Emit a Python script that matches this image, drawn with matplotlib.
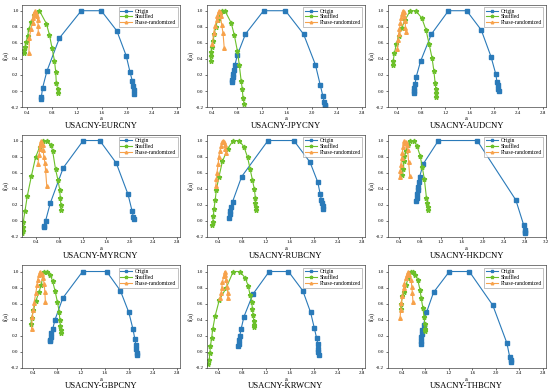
import matplotlib
matplotlib.use("Agg")
import matplotlib.pyplot as plt

plt.rcParams["font.family"] = ["Liberation Serif", "DejaVu Serif"]

pairs = ["USACNY-EURCNY", "USACNY-JPYCNY", "USACNY-AUDCNY",
         "USACNY-MYRCNY", "USACNY-RUBCNY", "USACNY-HKDCNY",
         "USACNY-GBPCNY", "USACNY-KRWCNY", "USACNY-THBCNY"]
series_names = ["Origin", "Shuffled", "Phase-randomized"]

# alpha values and f(alpha) values
eur_origin_a = [0.62, 0.63, 0.65, 0.72, 0.92, 1.27, 1.59, 1.84, 1.99, 2.05, 2.09, 2.10, 2.11, 2.12]
eur_origin_f = [-0.10, -0.075, 0.04, 0.25, 0.66, 1.0, 1.0, 0.75, 0.44, 0.24, 0.12, 0.06, 0.01, -0.04]
eur_shuf_a = [0.36, 0.36, 0.37, 0.39, 0.41, 0.43, 0.47, 0.52, 0.60, 0.71, 0.76, 0.80, 0.84, 0.86, 0.87, 0.89, 0.89]
eur_shuf_f = [0.47, 0.51, 0.55, 0.61, 0.69, 0.77, 0.86, 0.95, 1.0, 0.84, 0.70, 0.54, 0.38, 0.24, 0.10, 0.03, -0.03]
eur_phase_a = [0.43, 0.44, 0.46, 0.49, 0.50, 0.51, 0.52, 0.53, 0.55, 0.56, 0.57, 0.58, 0.58]
eur_phase_f = [0.47, 0.66, 0.77, 0.85, 0.91, 0.95, 0.97, 1.0, 0.97, 0.93, 0.89, 0.81, 0.72]

jpy_origin_a = [0.73, 0.73, 0.74, 0.74, 0.75, 0.77, 0.81, 0.94, 1.23, 1.58, 1.87, 2.06, 2.14, 2.18, 2.20, 2.21, 2.22]
jpy_origin_f = [0.11, 0.14, 0.18, 0.21, 0.26, 0.32, 0.45, 0.71, 1.0, 1.0, 0.71, 0.33, 0.07, -0.06, -0.13, -0.17, -0.19]
jpy_shuf_a = [0.38, 0.39, 0.39, 0.40, 0.42, 0.44, 0.46, 0.50, 0.53, 0.56, 0.61, 0.71, 0.76, 0.81, 0.84, 0.87, 0.89, 0.90, 0.92]
jpy_shuf_f = [0.38, 0.44, 0.48, 0.55, 0.62, 0.71, 0.80, 0.89, 0.96, 1.0, 1.0, 0.85, 0.70, 0.50, 0.33, 0.13, 0.02, -0.09, -0.16]
jpy_phase_a = [0.41, 0.43, 0.45, 0.48, 0.49, 0.51, 0.52, 0.53, 0.54, 0.56, 0.58, 0.60]
jpy_phase_f = [0.59, 0.72, 0.81, 0.88, 0.94, 0.99, 1.0, 0.98, 0.93, 0.82, 0.72, 0.53]

aud_origin_a = [0.68, 0.69, 0.69, 0.70, 0.72, 0.79, 0.97, 1.25, 1.55, 1.79, 1.95, 2.03, 2.05, 2.06, 2.07, 2.08]
aud_origin_f = [-0.03, 0.0, 0.04, 0.09, 0.18, 0.37, 0.71, 1.0, 1.0, 0.76, 0.43, 0.21, 0.11, 0.07, 0.03, 0.0]
aud_shuf_a = [0.33, 0.34, 0.36, 0.39, 0.43, 0.48, 0.54, 0.62, 0.71, 0.81, 0.88, 0.93, 0.98, 1.01, 1.03, 1.04, 1.05, 1.05]
aud_shuf_f = [0.33, 0.38, 0.47, 0.58, 0.69, 0.79, 0.89, 1.0, 1.0, 0.91, 0.76, 0.59, 0.41, 0.25, 0.10, 0.03, -0.03, -0.07]
aud_phase_a = [0.41, 0.42, 0.43, 0.44, 0.46, 0.47, 0.49, 0.50, 0.51, 0.52, 0.54, 0.54, 0.55]
aud_phase_f = [0.52, 0.64, 0.71, 0.77, 0.85, 0.91, 0.96, 1.0, 0.98, 0.93, 0.87, 0.79, 0.73]

myr_origin_a = [0.55, 0.55, 0.57, 0.65, 0.87, 1.21, 1.49, 1.77, 1.97, 2.04, 2.06, 2.07]
myr_origin_f = [-0.08, -0.06, 0.0, 0.22, 0.66, 1.0, 1.0, 0.72, 0.33, 0.12, 0.05, 0.02]
myr_shuf_a = [0.17, 0.18, 0.18, 0.19, 0.22, 0.26, 0.33, 0.40, 0.47, 0.53, 0.59, 0.66, 0.69, 0.74, 0.78, 0.81, 0.82, 0.83, 0.83]
myr_shuf_f = [-0.15, -0.12, -0.08, -0.02, 0.12, 0.31, 0.56, 0.79, 0.92, 1.0, 1.0, 0.95, 0.87, 0.64, 0.51, 0.39, 0.29, 0.20, 0.13]
myr_phase_a = [0.44, 0.46, 0.47, 0.47, 0.49, 0.50, 0.52, 0.53, 0.54, 0.56, 0.57, 0.59]
myr_phase_f = [0.71, 0.82, 0.89, 0.95, 0.97, 1.0, 0.94, 0.88, 0.80, 0.72, 0.63, 0.44]

rub_origin_a = [0.59, 0.60, 0.61, 0.62, 0.65, 0.80, 1.24, 1.67, 1.94, 2.07, 2.11, 2.13, 2.14, 2.15, 2.16]
rub_origin_f = [0.03, 0.08, 0.12, 0.17, 0.24, 0.55, 1.0, 1.0, 0.73, 0.48, 0.33, 0.26, 0.22, 0.18, 0.15]
rub_shuf_a = [0.31, 0.32, 0.33, 0.34, 0.36, 0.38, 0.42, 0.48, 0.57, 0.66, 0.76, 0.84, 0.90, 0.94, 0.98, 1.01, 1.03, 1.03, 1.04, 1.04]
rub_shuf_f = [-0.05, -0.01, 0.06, 0.15, 0.26, 0.39, 0.54, 0.74, 0.90, 1.0, 1.0, 0.92, 0.79, 0.65, 0.51, 0.40, 0.29, 0.22, 0.17, 0.13]
rub_phase_a = [0.37, 0.38, 0.39, 0.41, 0.42, 0.44, 0.46, 0.48, 0.49, 0.51, 0.52, 0.53, 0.54]
rub_phase_f = [0.44, 0.52, 0.60, 0.71, 0.80, 0.87, 0.93, 0.98, 1.0, 0.98, 0.94, 0.90, 0.85]

hkd_origin_a = [0.73, 0.74, 0.74, 0.75, 0.75, 0.77, 0.79, 0.86, 1.15, 1.89, 2.63, 2.78, 2.80, 2.81, 2.81]
hkd_origin_f = [0.25, 0.29, 0.33, 0.38, 0.42, 0.48, 0.55, 0.71, 1.0, 1.0, 0.26, -0.05, -0.11, -0.14, -0.15]
hkd_shuf_a = [0.46, 0.48, 0.49, 0.50, 0.53, 0.56, 0.61, 0.68, 0.74, 0.80, 0.84, 0.88, 0.92, 0.94, 0.95, 0.95]
hkd_shuf_f = [0.57, 0.65, 0.75, 0.81, 0.87, 0.94, 1.0, 1.0, 0.93, 0.81, 0.67, 0.52, 0.29, 0.22, 0.17, 0.14]
hkd_phase_a = [0.41, 0.42, 0.43, 0.45, 0.46, 0.47, 0.49, 0.50, 0.52, 0.54, 0.56, 0.58, 0.60]
hkd_phase_f = [0.54, 0.62, 0.70, 0.78, 0.85, 0.92, 0.97, 1.0, 0.98, 0.95, 0.88, 0.73, 0.56]

gbp_origin_a = [0.69, 0.69, 0.70, 0.71, 0.73, 0.77, 0.90, 1.23, 1.63, 1.86, 2.00, 2.07, 2.10, 2.12, 2.12, 2.13, 2.14]
gbp_origin_f = [0.13, 0.15, 0.19, 0.23, 0.28, 0.40, 0.67, 1.0, 1.0, 0.76, 0.49, 0.28, 0.16, 0.08, 0.03, -0.01, -0.04]
gbp_shuf_a = [0.37, 0.38, 0.41, 0.45, 0.50, 0.54, 0.58, 0.64, 0.69, 0.73, 0.77, 0.81, 0.84, 0.85, 0.86, 0.87, 0.87]
gbp_shuf_f = [0.35, 0.42, 0.52, 0.63, 0.74, 0.83, 1.0, 1.0, 0.96, 0.88, 0.76, 0.62, 0.50, 0.40, 0.32, 0.27, 0.24]
gbp_phase_a = [0.38, 0.39, 0.41, 0.42, 0.45, 0.47, 0.48, 0.51, 0.52, 0.55, 0.57, 0.59, 0.60, 0.61]
gbp_phase_f = [0.29, 0.44, 0.52, 0.61, 0.73, 0.83, 0.90, 0.96, 1.0, 0.97, 0.92, 0.85, 0.75, 0.62]

krw_origin_a = [0.74, 0.75, 0.76, 0.77, 0.79, 0.84, 0.99, 1.26, 1.58, 1.82, 1.95, 2.01, 2.05, 2.07, 2.08, 2.08, 2.09]
krw_origin_f = [0.07, 0.10, 0.15, 0.20, 0.28, 0.44, 0.72, 1.0, 1.0, 0.76, 0.49, 0.30, 0.17, 0.10, 0.04, 0.0, -0.04]
krw_shuf_a = [0.24, 0.26, 0.27, 0.28, 0.30, 0.32, 0.36, 0.43, 0.54, 0.66, 0.77, 0.86, 0.91, 0.94, 0.97, 0.98, 0.99, 1.00, 1.01, 1.01]
krw_shuf_f = [-0.15, -0.10, -0.02, 0.07, 0.17, 0.29, 0.45, 0.65, 0.79, 1.0, 1.0, 0.92, 0.82, 0.71, 0.62, 0.53, 0.46, 0.39, 0.33, 0.31]
krw_phase_a = [0.44, 0.46, 0.47, 0.48, 0.50, 0.52, 0.53, 0.54, 0.56, 0.57, 0.57]
krw_phase_f = [0.67, 0.73, 0.80, 0.87, 0.94, 1.0, 0.96, 0.90, 0.81, 0.73, 0.67]

thb_origin_a = [0.72, 0.72, 0.73, 0.74, 0.75, 0.77, 0.82, 0.94, 1.21, 1.55, 1.95, 2.19, 2.24, 2.26, 2.26]
thb_origin_f = [0.10, 0.14, 0.18, 0.22, 0.27, 0.34, 0.49, 0.74, 1.0, 1.0, 0.58, 0.11, -0.07, -0.10, -0.13]
thb_shuf_a = [0.38, 0.39, 0.41, 0.44, 0.47, 0.51, 0.55, 0.59, 0.63, 0.67, 0.71, 0.73, 0.76, 0.78, 0.79, 0.79, 0.80]
thb_shuf_f = [0.53, 0.60, 0.69, 0.75, 0.83, 0.92, 1.0, 1.0, 0.96, 0.90, 0.77, 0.67, 0.54, 0.43, 0.35, 0.29, 0.26]
thb_phase_a = [0.37, 0.38, 0.39, 0.41, 0.43, 0.44, 0.47, 0.49, 0.51, 0.53, 0.56, 0.57, 0.58, 0.59]
thb_phase_f = [0.42, 0.52, 0.61, 0.69, 0.79, 0.85, 0.92, 0.96, 1.0, 0.96, 0.90, 0.81, 0.73, 0.62]

panels = [
    [(eur_origin_a, eur_origin_f), (eur_shuf_a, eur_shuf_f), (eur_phase_a, eur_phase_f)],
    [(jpy_origin_a, jpy_origin_f), (jpy_shuf_a, jpy_shuf_f), (jpy_phase_a, jpy_phase_f)],
    [(aud_origin_a, aud_origin_f), (aud_shuf_a, aud_shuf_f), (aud_phase_a, aud_phase_f)],
    [(myr_origin_a, myr_origin_f), (myr_shuf_a, myr_shuf_f), (myr_phase_a, myr_phase_f)],
    [(rub_origin_a, rub_origin_f), (rub_shuf_a, rub_shuf_f), (rub_phase_a, rub_phase_f)],
    [(hkd_origin_a, hkd_origin_f), (hkd_shuf_a, hkd_shuf_f), (hkd_phase_a, hkd_phase_f)],
    [(gbp_origin_a, gbp_origin_f), (gbp_shuf_a, gbp_shuf_f), (gbp_phase_a, gbp_phase_f)],
    [(krw_origin_a, krw_origin_f), (krw_shuf_a, krw_shuf_f), (krw_phase_a, krw_phase_f)],
    [(thb_origin_a, thb_origin_f), (thb_shuf_a, thb_shuf_f), (thb_phase_a, thb_phase_f)],
]
x_left = [0.32, 0.32, 0.25, 0.17, 0.22, 0.18, 0.22, 0.22, 0.16]
x_right = [2.85, 2.85, 2.85, 2.85, 2.85, 3.2, 2.85, 2.85, 2.85]
x_ticks = [[0.4, 0.8, 1.2, 1.6, 2.0, 2.4, 2.8]] * 5 + [[0.4, 0.8, 1.2, 1.6, 2.0, 2.4, 2.8, 3.2]] + [[0.4, 0.8, 1.2, 1.6, 2.0, 2.4, 2.8]] * 3

colors = ["#2a7ab9", "#6cc02a", "#f7a24b"]
markers = ["s", "*", "^"]

fig = plt.figure(figsize=(5.5, 3.91), dpi=100)
lefts = [0.040, 0.376, 0.705]
bottoms = [0.726, 0.394, 0.059]
title_y = [1 - 126 / 391, 1 - 256 / 391, 1 - 386 / 391]

for i, name in enumerate(pairs):
    r, c = divmod(i, 3)
    ax = fig.add_axes([lefts[c], bottoms[r], 0.287, 0.262])
    for (a, f), lab, col, mk in zip(panels[i], series_names, colors, markers):
        ax.plot(a, f, color=col, marker=mk, markersize=2.6 if mk != "*" else 3.5,
                linewidth=0.8, label=lab)
    ax.set_xlim(x_left[i], x_right[i])
    ax.set_ylim(-0.2, 1.075)
    ax.set_xticks(x_ticks[i])
    ax.set_yticks([-0.2, 0.0, 0.2, 0.4, 0.6, 0.8, 1.0])
    ax.set_yticklabels(["-0.2", "0.0", "0.2", "0.4", "0.6", "0.8", "1.0"])
    ax.tick_params(labelsize=3.6, length=1.5, width=0.4, pad=1)
    for s in ax.spines.values():
        s.set_linewidth(0.5)
        s.set_color("#444444")
    ax.set_xlabel("a", fontsize=4.5, labelpad=1)
    ax.set_ylabel("f(a)", fontsize=4.5, labelpad=1)
    ax.legend(loc="upper right", fontsize=4, frameon=True, fancybox=False,
              edgecolor="#777777", borderpad=0.3, labelspacing=0.15,
              handlelength=2.2, handletextpad=0.4, borderaxespad=0.4,
              markerscale=0.7).get_frame().set_linewidth(0.4)
    fig.text(lefts[c] + 0.287 / 2, title_y[r], name, ha="center", va="center", fontsize=6.2)

fig.savefig("out.png", dpi=100)
